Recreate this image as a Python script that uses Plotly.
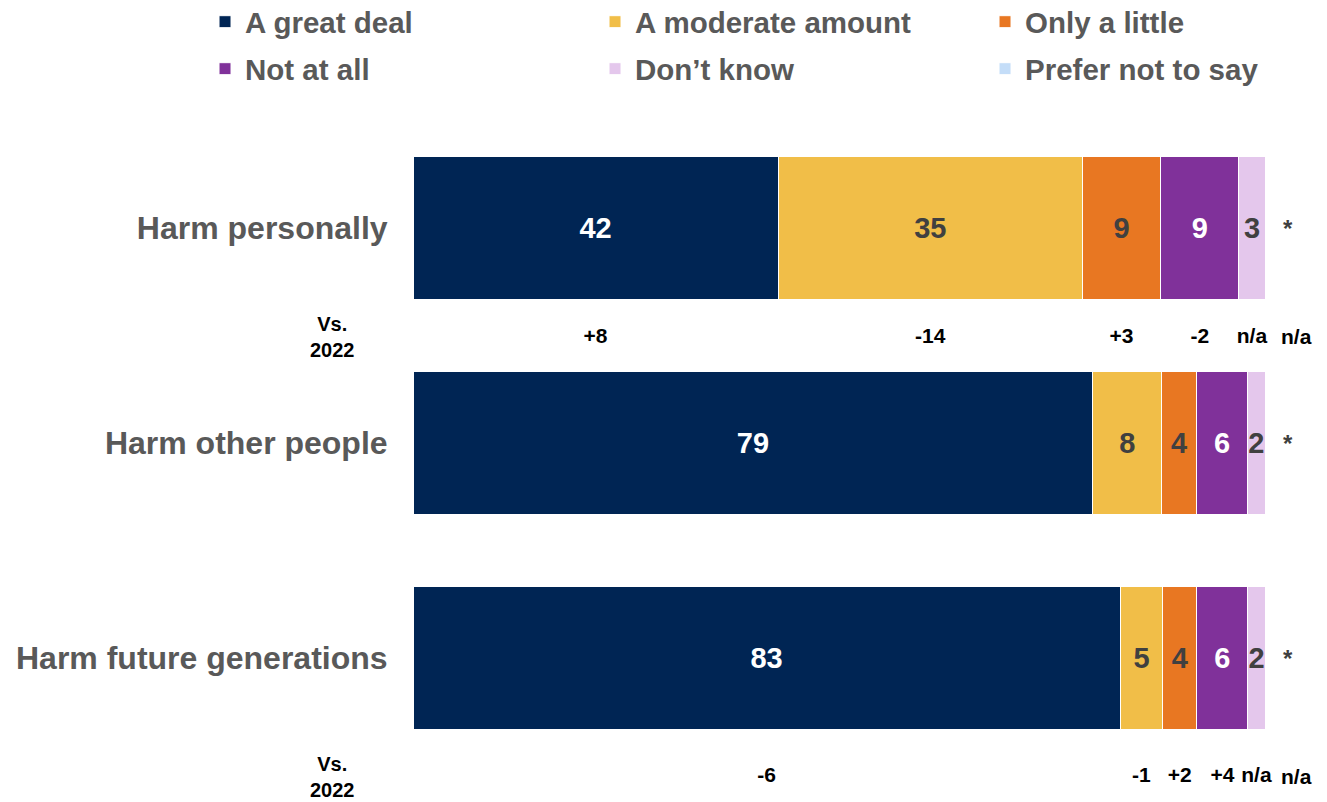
import plotly.graph_objects as go

categories = ["Harm personally", "Harm other people", "Harm future generations"]
series = ["A great deal", "A moderate amount", "Only a little", "Not at all", "Don\u2019t know", "Prefer not to say"]
great_deal = [42, 79, 83]
moderate = [35, 8, 5]
little = [9, 4, 4]
not_at_all = [9, 6, 6]
dont_know = [3, 2, 2]
prefer_not = [0, 0, 0]
prefer_labels = ["*", "*", "*"]

# change vs 2022 (only for rows 1 and 3)
vs_rows = [0, 2]
vs_changes = {
    0: ["+8", "-14", "+3", "-2", "n/a", "n/a"],
    2: ["-6", "-1", "+2", "+4", "n/a", "n/a"],
}

colors = ["#002554", "#F1BE48", "#E87722", "#80319A", "#E4C7EC", "#C4DDF8"]
text_colors = ["#FFFFFF", "#404040", "#404040", "#FFFFFF", "#404040", "#404040"]
values = [great_deal, moderate, little, not_at_all, dont_know, prefer_not]

FONT = "Liberation Sans, Arial, sans-serif"
ypos = list(range(len(categories)))

fig = go.Figure()
for i, (name, vals) in enumerate(zip(series, values)):
    fig.add_trace(go.Bar(
        y=ypos, x=vals, orientation="h", name=name,
        marker=dict(color=colors[i], line=dict(color="white", width=1)),
        text=[str(v) if v > 0 else "" for v in vals],
        textposition="inside", insidetextanchor="middle",
        textfont=dict(family=FONT, size=29, color=text_colors[i]),
        legend="legend" if i < 3 else "legend2",
        hoverinfo="skip",
    ))

# segment centres in percent space for the change labels
offsets = {0: 0.507, 2: 0.553}
for r in vs_rows:
    total = sum(v[r] for v in values)
    cum = 0
    xs, ts = [], []
    for k in range(5):
        pct = values[k][r] / total * 100
        xs.append(cum + pct / 2)
        ts.append(vs_changes[r][k])
        cum += pct
    fig.add_trace(go.Scatter(
        x=xs, y=[r + offsets[r]] * len(xs), mode="text", text=ts,
        textposition="middle center", cliponaxis=False, showlegend=False,
        textfont=dict(family=FONT, size=21, color="#000000"), hoverinfo="skip",
    ))
    fig.add_annotation(x=100, y=r + offsets[r], xref="x", yref="y", text="<b>" + vs_changes[r][5] + "</b>",
                       showarrow=False, xshift=31, yshift=1, xanchor="center",
                       font=dict(family=FONT, size=21, color="#000000"))
    fig.add_annotation(x=-0.094, xref="paper", y=r + offsets[r], yref="y", text="<b>Vs.<br>2022</b>",
                       showarrow=False, xanchor="center", yanchor="middle",
                       font=dict(family=FONT, size=20, color="#000000"), align="center")

for r in ypos:
    fig.add_annotation(x=100, y=r, xref="x", yref="y", text="<b>" + prefer_labels[r] + "</b>",
                       showarrow=False, xshift=23, xanchor="center",
                       font=dict(family=FONT, size=24, color="#404040"))

legend_common = dict(orientation="h", entrywidth=345, entrywidthmode="pixels", traceorder="normal",
                     font=dict(family=FONT, size=29.5, color="#595959", weight="bold"),
                     xref="paper", x=-0.2441, xanchor="left", yref="paper",
                     yanchor="middle", bgcolor="rgba(0,0,0,0)", itemclick=False)

fig.update_layout(
    width=1319, height=794,
    margin=dict(l=405, r=62, t=102, b=11, autoexpand=False),
    paper_bgcolor="white", plot_bgcolor="white",
    barmode="stack", barnorm="percent", bargap=0.335,
    uniformtext=dict(minsize=29, mode="show"),
    font=dict(family=FONT, weight="bold"),
    legend=dict(**legend_common, y=1 + (102 - 14) / 681),
    legend2=dict(**legend_common, y=1 + (102 - 61) / 681),
    xaxis=dict(range=[0, 100], showticklabels=False, showgrid=False, zeroline=False, showline=False),
    yaxis=dict(range=[2.6174, -0.55], tickvals=ypos, ticktext=categories, showgrid=False,
               zeroline=False, showline=False, ticks="outside", ticklen=18, tickcolor="rgba(0,0,0,0)",
               tickfont=dict(family=FONT, size=32, color="#595959", weight="bold")),
)

fig.write_html("out.html")
